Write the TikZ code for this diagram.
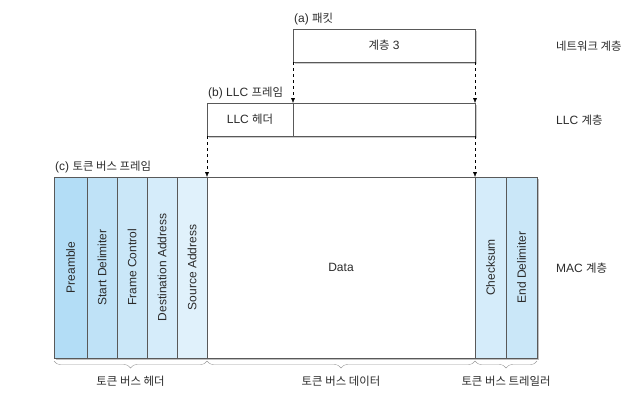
\documentclass[tikz,border=0pt]{standalone}
\usepackage{fontspec}
\setmainfont{Liberation Sans}
\newfontfamily\kr[Scale=0.95]{Noto Sans CJK KR}
\usetikzlibrary{arrows.meta, positioning, decorations.pathreplacing, backgrounds}

\definecolor{fieldA}{HTML}{B3DDF6}
\definecolor{fieldB}{HTML}{BFE2F7}
\definecolor{fieldC}{HTML}{CAE7F8}
\definecolor{fieldD}{HTML}{D5ECFA}
\definecolor{fieldE}{HTML}{E0F1FB}
\definecolor{ink}{HTML}{2B2B2B}

\tikzstyle{frame} = [
rectangle,
draw=black!65,
fill=white,
minimum height=33pt,
inner sep=0pt,
outer sep=0pt,
text=ink]
\tikzstyle{field} = [
rectangle,
draw=black!65,
minimum height=181pt,
inner sep=0pt,
outer sep=0pt,
text=ink]
\tikzstyle{arrow} = [
draw=black,
dashed,
-{Latex[length=5pt, width=4pt]}]
\tikzstyle{brace} = [
draw=black!40,
decorate,
decoration={brace, mirror, amplitude=7pt}]
\tikzstyle{tag} = [
text=ink,
inner sep=1pt]

\begin{document}
\begin{tikzpicture}[x=1pt, y=-1pt, node distance=0pt, font=\fontsize{12}{14}\selectfont]
\useasboundingbox (0,0) rectangle (626,400);

% (a) packet
\node[frame, minimum width=182pt, anchor=north west] (packet) at (293,29) {{\kr 계층} 3};
\node[tag, anchor=south west] (packetTitle) at ([yshift=3pt]packet.north west) {(a) {\kr 패킷}};

% (b) LLC frame
\node[frame, minimum width=86pt, anchor=north west] (llcHeader) at (207,103) {LLC {\kr 헤더}};
\node[frame, minimum width=182pt, right=of llcHeader] (llcData) {};
\node[tag, anchor=south west] (llcTitle) at ([yshift=3pt]llcHeader.north west) {(b) LLC {\kr 프레임}};

% (c) token bus frame
\node[field, fill=fieldA, minimum width=33pt, anchor=north west,
  label={[rotate=90, text=ink]center:Preamble}] (preamble) at (54,177) {};
\node[field, fill=fieldB, minimum width=30pt, right=of preamble,
  label={[rotate=90, text=ink]center:Start Delimiter}] (startDelim) {};
\node[field, fill=fieldC, minimum width=30pt, right=of startDelim,
  label={[rotate=90, text=ink]center:Frame Control}] (frameControl) {};
\node[field, fill=fieldD, minimum width=30pt, right=of frameControl,
  label={[rotate=90, text=ink]center:Destination Address}] (destAddr) {};
\node[field, fill=fieldE, minimum width=30pt, right=of destAddr,
  label={[rotate=90, text=ink]center:Source Address}] (srcAddr) {};
\node[field, fill=white, minimum width=268pt, right=of srcAddr] (data) {Data};
\node[field, fill=fieldD, minimum width=31pt, right=of data,
  label={[rotate=90, text=ink]center:Checksum}] (checksum) {};
\node[field, fill=fieldC, minimum width=31pt, right=of checksum,
  label={[rotate=90, text=ink]center:End Delimiter}] (endDelim) {};
\node[tag, anchor=south west] (macTitle) at ([yshift=3pt]preamble.north west) {(c) {\kr 토큰 버스 프레임}};

% layer names
\node[tag, anchor=west] (netLayer) at (555,46) {\kr 네트워크 계층};
\node[tag, anchor=west] (llcLayer) at (555,120) {LLC {\kr 계층}};
\node[tag, anchor=west] (macLayer) at (555,268) {MAC {\kr 계층}};

\draw[arrow] (packet.south west) -- (llcData.north west);
\draw[arrow] (packet.south east) -- (llcData.north east);
\draw[arrow] (llcHeader.south west) -- (data.north west);
\draw[arrow] (llcData.south east) -- (data.north east);

\draw[brace] ([yshift=-3pt]preamble.south west) -- ([yshift=-3pt]srcAddr.south east)
    node[midway, below=14pt, tag] (headerText) {\kr 토큰 버스 헤더};
\draw[brace] ([yshift=-3pt]data.south west) -- ([yshift=-3pt]data.south east)
    node[midway, below=14pt, tag] (dataText) {\kr 토큰 버스 데이터};
\draw[brace] ([yshift=-3pt]checksum.south west) -- ([yshift=-3pt]endDelim.south east)
    node[midway, below=14pt, tag] (trailerText) {\kr 토큰 버스 트레일러};

\begin{scope}[on background layer]
\fill[black!20] ([shift={(1.5,1.5)}]packet.north west) rectangle ([shift={(1.5,1.5)}]packet.south east);
\fill[black!20] ([shift={(1.5,1.5)}]llcHeader.north west) rectangle ([shift={(1.5,1.5)}]llcData.south east);
\fill[black!25] ([shift={(2,2)}]preamble.north west) rectangle ([shift={(2,2)}]endDelim.south east);
\end{scope}

\end{tikzpicture}
\end{document}
